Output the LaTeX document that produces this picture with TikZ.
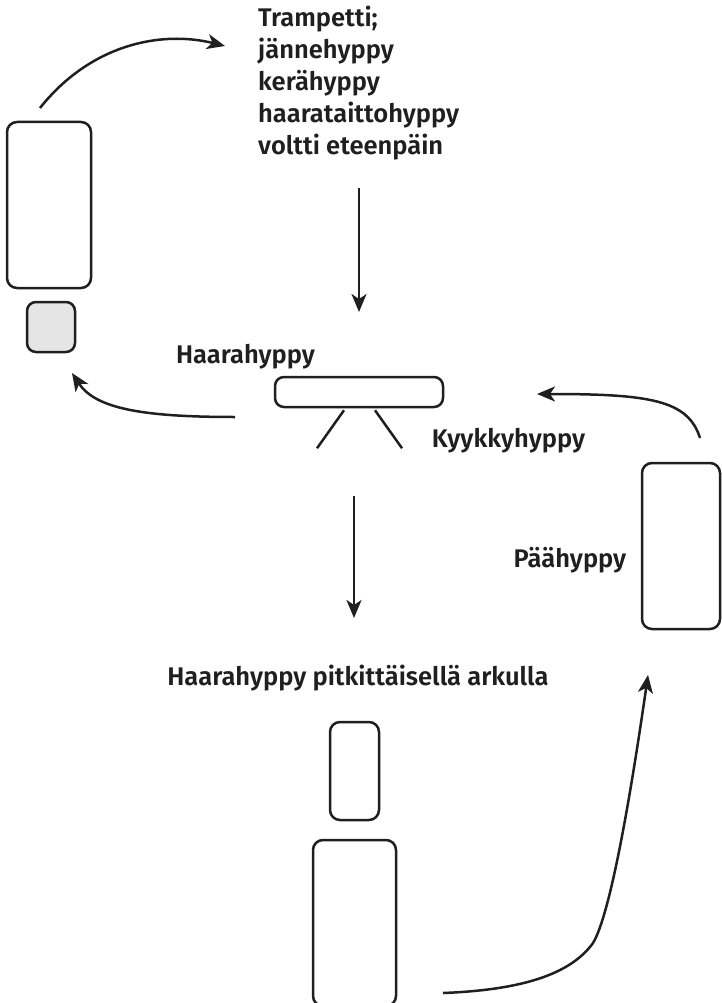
\documentclass[tikz,border=0pt]{standalone}
\usepackage{fontspec}
\setmainfont{Fira Sans}[BoldFont={Fira Sans SemiBold}]
\usepackage{xcolor}
\usetikzlibrary{arrows.meta,calc}

\begin{document}
\begin{tikzpicture}[x=1pt, y=-1pt,
  pad/.style={draw=black!88, line width=2.5pt, rounded corners=10pt, inner sep=0pt},
  ar/.style={-{Stealth[length=18pt,width=15pt,inset=5pt]}, line width=2.5pt, draw=black!88},
  leg/.style={line width=2.5pt, draw=black!88},
  lbl/.style={font=\bfseries\fontsize{25.5}{32}\selectfont, inner sep=0pt, text=black!88}
]
\clip (0,0) rectangle (722,1003);

% --- apparatus ----------------------------------------------------------
\node[pad, minimum width=84pt, minimum height=166pt] (tall) at (49,205) {};
\node[pad, fill=black!10, rounded corners=9pt, minimum width=48pt, minimum height=50pt] (cube) at (51,327) {};
\node[pad, rounded corners=9pt, minimum width=168pt, minimum height=30pt] (bar) at (359,392) {};
\node[pad, minimum width=78pt, minimum height=166pt] (mat) at (681,546) {};
\node[pad, minimum width=49pt, minimum height=98pt] (small) at (354.5,771) {};
\node[pad, minimum width=83pt, minimum height=166pt] (big) at (354.5,923) {};

\draw[leg] ($(bar.south)+(-15,2)$) -- ++(-27,38);
\draw[leg] ($(bar.south)+(16,2)$) -- ++(27,38);

% --- labels -------------------------------------------------------------
\node[lbl, anchor=base west, align=left] (tramp) at (258,155)
  {Trampetti;\\jännehyppy\\kerähyppy\\haarataittohyppy\\voltti eteenpäin};
\node[lbl, anchor=base] (haara)  at (245.5,363) {Haarahyppy};
\node[lbl, anchor=base] (kyykky) at (508.5,447) {Kyykkyhyppy};
\node[lbl, anchor=base] (paa)    at (570,567)   {Päähyppy};
\node[lbl, anchor=base] (arkku)  at (358,685)   {Haarahyppy pitkittäisellä arkulla};

% --- arrows -------------------------------------------------------------
\coordinate (upS)    at (40,108);
\coordinate (upE)    at (225,46);
\coordinate (downAS) at (359,188);
\coordinate (downAE) at (359,312);
\coordinate (leftS)  at (235,417);
\coordinate (leftE)  at (72,373);
\coordinate (rightS) at (700,438);
\coordinate (rightE) at (537,394);
\coordinate (downBS) at (354,496);
\coordinate (downBE) at (354,618);
\coordinate (lowS)   at (443,993);
\coordinate (lowM)   at (593,943);
\coordinate (lowE)   at (648,675);

\draw[ar] (upS) .. controls (90,45) and (160,30) .. (upE);
\draw[ar] (downAS) -- (downAE);
\draw[ar] (leftS) .. controls (140,417) and (95,408) .. (leftE);
\draw[ar] (rightS) .. controls (688,400) and (650,394) .. (rightE);
\draw[ar] (downBS) -- (downBE);
\draw[ar] (lowS) .. controls (520,990) and (570,975) .. (lowM)
                 .. controls (610,915) and (630,800) .. (lowE);
\end{tikzpicture}
\end{document}
